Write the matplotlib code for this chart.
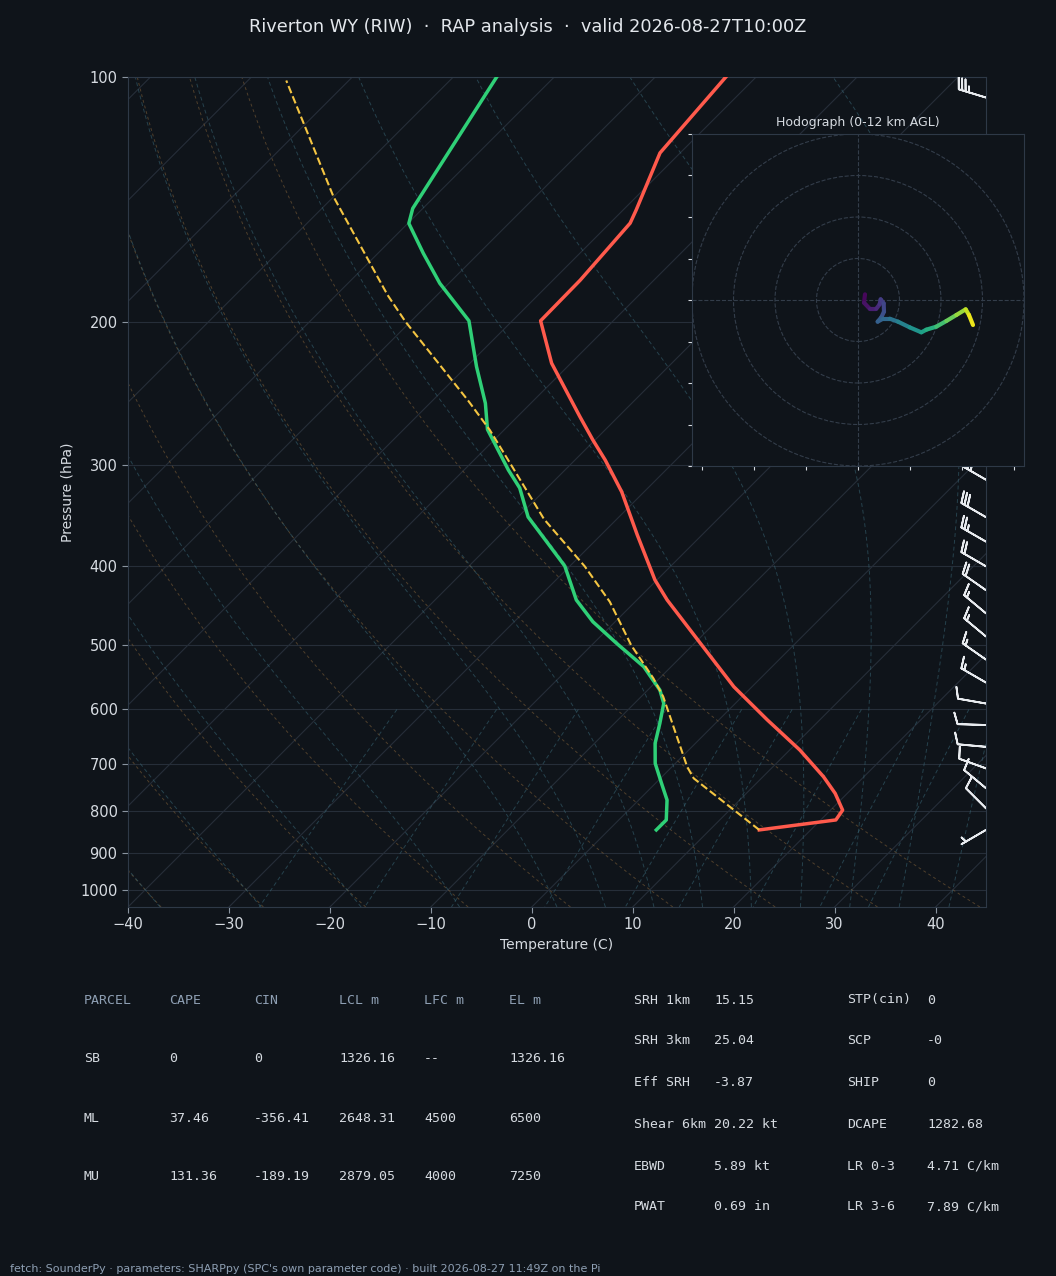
import numpy as np
import matplotlib
matplotlib.use("Agg")
import matplotlib.pyplot as plt
import matplotlib.transforms as mtransforms
from matplotlib.collections import LineCollection
from matplotlib.patches import Circle
from matplotlib.colors import Normalize
from matplotlib.ticker import NullLocator

# ---- sounding (hPa / degC) ----
temp_p = [844, 820.5, 798, 761, 726, 673, 618, 562.6, 497.6, 440, 415.7, 366, 324, 296,
          279.7, 261.8, 225, 199.5, 177.8, 151.3, 145.8, 124, 100]
temp_c = [14.9, 21.5, 21.2, 18.8, 16.0, 11.0, 4.8, -1.8, -9.4, -17.0, -20.2, -26.4, -32.2, -37.0,
          -40.2, -43.8, -51.9, -57.2, -57.3, -58.0, -58.7, -62.0, -63.0]

dewp_p = [844, 820.5, 775.4, 739.6, 699, 660.3, 624.2, 589.7, 567.9, 531.6, 497.6, 468, 440,
          399.7, 371.3, 347.8, 320.4, 304.5, 271.4, 252, 227.2, 199.5, 179.4, 164.8, 151.4, 145.1, 100]
dewp_c = [4.7, 4.7, 2.8, 0.6, -2.0, -4.0, -5.5, -7.1, -8.8, -12.7, -17.7, -22.2, -26.0,
          -30.5, -35.0, -39.0, -42.7, -45.6, -51.7, -54.5, -59.0, -64.3, -70.9, -75.5, -79.9, -81.0, -85.7]

parcel_p = [844, 729.3, 705.7, 578.8, 549.4, 500, 442.3, 400, 350, 303, 271.9, 250, 200, 185.5,
            177.8, 140.4, 101]
parcel_c = [14.9, 3.3, 1.5, -7.8, -10.6, -16.1, -22.5, -28.5, -37.2, -45.3, -51.4, -56.5, -70.5, -74.9,
            -77.2, -90.0, -106.2]

# wind barbs (hPa, kt)
barb_p = [844, 794, 750, 709, 667, 627, 590, 556, 521, 488, 457, 428, 400, 373, 348, 313, 106]
barb_u = [4.3, 7.1, 7.7, 9.4, 10.0, 10.0, 9.8, 13.0, 12.3, 11.5, 11.5, 16.4, 17.3, 21.7, 26.0, 30.3, 33.5]
barb_v = [2.5, -7.1, -6.4, -3.4, -0.9, -0.3, -1.7, -7.5, -8.6, -9.6, -9.6, -11.5, -10.0, -12.5, -15.0, -17.5, -10.2]

# hodograph 0-12 km (kt, km AGL)
hodo_u = [3.37, 2.89, 5.62, 8.84, 10.44, 10.92, 12.37, 12.53, 11.24, 9.48, 12.05, 15.26, 19.28,
          24.90, 30.52, 32.93, 37.75, 42.57, 47.39, 51.89, 53.49, 55.42]
hodo_v = [2.73, -1.29, -4.18, -4.18, -2.09, 0.32, -1.61, -5.62, -8.35, -10.44, -9.0, -9.0, -10.44,
          -13.17, -15.58, -14.30, -12.85, -10.12, -7.23, -4.50, -7.23, -12.05]
hodo_z = [0, 0.4, 0.8, 1.2, 1.6, 2.0, 2.3, 2.7, 3.1, 3.5, 3.8, 4.3, 4.9, 5.7, 6.6, 7.1, 7.9,
          8.8, 9.7, 10.6, 11.3, 12.0]

title = "Riverton WY (RIW)  \u00b7  RAP analysis  \u00b7  valid 2026-08-27T10:00Z"
footer = ("fetch: SounderPy \u00b7 parameters: SHARPpy (SPC's own parameter code) \u00b7 "
          "built 2026-08-27 11:49Z on the Pi")

parcel_head = ["PARCEL", "CAPE", "CIN", "LCL m", "LFC m", "EL m"]
parcel_rows = [["SB", "0", "0", "1326.16", "--", "1326.16"],
               ["ML", "37.46", "-356.41", "2648.31", "4500", "6500"],
               ["MU", "131.36", "-189.19", "2879.05", "4000", "7250"]]

param_names1 = ["SRH 1km", "SRH 3km", "Eff SRH", "Shear 6km", "EBWD", "PWAT"]
param_vals1 = ["15.15", "25.04", "-3.87", "20.22 kt", "5.89 kt", "0.69 in"]
param_names2 = ["STP(cin)", "SCP", "SHIP", "DCAPE", "LR 0-3", "LR 3-6"]
param_vals2 = ["0", "-0", "0", "1282.68", "4.71 C/km", "7.89 C/km"]

# ---- style ----
BG = '#0f141a'
GRID = '#262e39'
SPINE = '#2e3947'
TXT = '#d6dbe1'
MUTED = '#8e9fb3'

W, H = 1056, 1276
fig = plt.figure(figsize=(W / 100, H / 100), dpi=100, facecolor=BG)

ax = fig.add_axes([128 / W, 1 - 907 / H, 858 / W, 830 / H], facecolor=BG)
ax.set_yscale('log')
ax.set_ylim(1050, 100)
ax.set_xlim(-40, 45)
ax.set_autoscale_on(False)

# skew of 45 degrees on screen, done in axes coords
skew_tr = (ax.transScale + ax.transLimits
           + mtransforms.Affine2D().skew(np.arctan(830 / 858), 0) + ax.transAxes)

# isotherms
for t in range(-120, 50, 10):
    ax.plot([t, t], [1050, 100], transform=skew_tr, color=GRID, lw=0.8, zorder=1)

# dry adiabats
p_grid = np.linspace(1050, 100, 150)
for t0 in np.arange(-40, 46, 10):
    tt = (t0 + 273.15) * (p_grid / 1000.0) ** 0.28571 - 273.15
    ax.plot(tt, p_grid, transform=skew_tr, color='#7a5c37', alpha=0.6, lw=0.7,
            ls=(0, (3, 3)), zorder=1)

# moist adiabats (pseudo-adiabatic lapse, RK4 from 1000 hPa)
RD, CP, LV, EPS = 287.04749, 1004.666, 2.50084e6, 0.621957


def dtdp(T, p):
    es = 6.112 * np.exp(17.67 * (T - 273.15) / (T - 29.65))
    rs = EPS * es / (p - es)
    return (RD * T + LV * rs) / (CP + LV * LV * rs * EPS / (RD * T * T)) / p


def integrate(t0k, plist):
    out = [t0k.copy()]
    T = t0k.copy()
    for i in range(len(plist) - 1):
        p, h = plist[i], plist[i + 1] - plist[i]
        k1 = dtdp(T, p)
        k2 = dtdp(T + h / 2 * k1, p + h / 2)
        k3 = dtdp(T + h / 2 * k2, p + h / 2)
        k4 = dtdp(T + h * k3, p + h)
        T = T + h / 6 * (k1 + 2 * k2 + 2 * k3 + k4)
        out.append(T.copy())
    return np.array(out)


moist_t0 = np.concatenate((np.arange(-40, 0, 10), np.arange(0, 46, 5))) + 273.15
p_up = np.linspace(1000, 100, 400)
p_dn = np.linspace(1000, 1050, 20)
t_up = integrate(moist_t0, p_up)
t_dn = integrate(moist_t0, p_dn)
p_all = np.concatenate((p_dn[::-1], p_up[1:]))
t_all = np.concatenate((t_dn[::-1], t_up[1:])) - 273.15
for j in range(len(moist_t0)):
    ax.plot(t_all[:, j], p_all, transform=skew_tr, color='#35606f', alpha=0.6, lw=0.7,
            ls=(0, (4, 3)), zorder=1)

# mixing ratio lines
p_mix = np.linspace(600, 1050, 50)
for w in [0.0004, 0.001, 0.002, 0.004, 0.007, 0.01, 0.016, 0.024, 0.032]:
    e = p_mix * w / (EPS + w)
    lg = np.log(e / 6.112)
    td = 243.5 * lg / (17.67 - lg)
    ax.plot(td, p_mix, transform=skew_tr, color='#35606f', alpha=0.6, lw=0.7,
            ls=(0, (4, 3)), zorder=1)

# profiles
ax.plot(temp_c, temp_p, transform=skew_tr, color='#ff5a4c', lw=2.5, zorder=4)
ax.plot(dewp_c, dewp_p, transform=skew_tr, color='#2fd077', lw=2.5, zorder=4)
ax.plot(parcel_c, parcel_p, transform=skew_tr, color='#f4c542', lw=1.5, ls='--', zorder=4)

# barbs on the right edge
bt = mtransforms.blended_transform_factory(ax.transAxes, ax.transData)
ax.barbs(np.ones(len(barb_p)), barb_p, barb_u, barb_v, transform=bt, clip_on=True,
         length=6.4, color='#e8ebef', linewidth=1.3, zorder=5)

yt = [100, 200, 300, 400, 500, 600, 700, 800, 900, 1000]
ax.set_yticks(yt)
ax.set_yticklabels([str(v) for v in yt])
ax.yaxis.set_minor_locator(NullLocator())
ax.set_xticks(range(-40, 41, 10))
ax.yaxis.grid(True, color=GRID, lw=0.8)
ax.set_axisbelow(True)
ax.tick_params(colors=TXT, labelsize=10.5, length=4)
ax.tick_params(axis='both', color='#8a94a0')
for s in ax.spines.values():
    s.set_color(SPINE)
ax.set_xlabel('Temperature (C)', color=TXT, fontsize=10)
ax.set_ylabel('Pressure (hPa)', color=TXT, fontsize=10)

fig.text(0.5, 1 - 27 / H, title, ha='center', va='center', fontsize=12.75, color='#e3e7ec')

# hodograph inset
hax = fig.add_axes([692 / W, 1 - 466 / H, 332 / W, 332 / H], facecolor=BG)
hax.set_xlim(-80, 80)
hax.set_ylim(-80, 80)
hax.set_xticks(range(-75, 76, 25))
hax.set_yticks(range(-80, 81, 20))
hax.tick_params(labelbottom=False, labelleft=False, color=TXT, length=3)
for s in hax.spines.values():
    s.set_color(SPINE)
for r in (20, 40, 60, 80):
    hax.add_patch(Circle((0, 0), r, fill=False, ls='--', color='#333d4a', lw=0.8))
hax.axhline(0, ls='--', color='#333d4a', lw=0.8)
hax.axvline(0, ls='--', color='#333d4a', lw=0.8)
pts = np.column_stack([hodo_u, hodo_v]).reshape(-1, 1, 2)
segs = np.concatenate([pts[:-1], pts[1:]], axis=1)
lc = LineCollection(segs, cmap='viridis', norm=Normalize(0, 12), linewidth=3,
                    capstyle='round')
lc.set_array(0.5 * (np.array(hodo_z[:-1]) + np.array(hodo_z[1:])))
hax.add_collection(lc)
hax.set_title('Hodograph (0-12 km AGL)', color=TXT, fontsize=9)

# parameter tables
mono = 'DejaVu Sans Mono'
col_x = [84, 169, 254, 339, 424, 509]
for x, h in zip(col_x, parcel_head):
    fig.text(x / W, 1 - 1000 / H, h, fontsize=9.5, family=mono, color=MUTED, va='center')
for row, y in zip(parcel_rows, [1059, 1118, 1177]):
    for x, v in zip(col_x, row):
        fig.text(x / W, 1 - y / H, v, fontsize=9.5, family=mono, color=TXT, va='center')

row_y = [1000, 1041, 1083, 1124, 1166, 1207]
for i, y in enumerate(row_y):
    fig.text(634 / W, 1 - y / H, param_names1[i], fontsize=9.5, family=mono, color=TXT, va='center')
    fig.text(714 / W, 1 - y / H, param_vals1[i], fontsize=9.5, family=mono, color=TXT, va='center')
    fig.text(847 / W, 1 - y / H, param_names2[i], fontsize=9.5, family=mono, color=TXT, va='center')
    fig.text(927 / W, 1 - y / H, param_vals2[i], fontsize=9.5, family=mono, color=TXT, va='center')

fig.text(10 / W, 1 - 1269 / H, footer, fontsize=8, color=MUTED, va='center')

fig.savefig('out.png', dpi=100, facecolor=BG)
